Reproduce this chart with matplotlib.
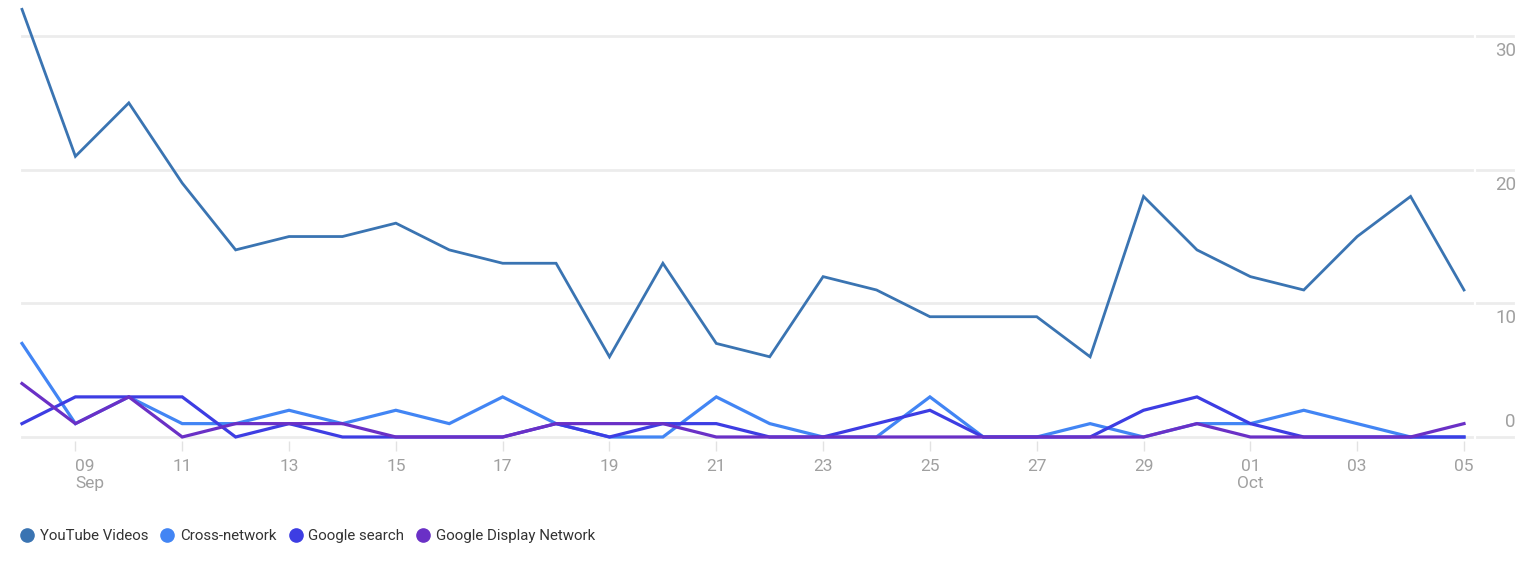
import matplotlib
matplotlib.use("Agg")
import matplotlib.pyplot as plt
import matplotlib.transforms as mtransforms
from matplotlib.lines import Line2D
import pandas as pd

dates = pd.date_range("2023-09-08", "2023-10-05", freq="D")

youtube = [32, 21, 25, 19, 14, 15, 15, 16, 14, 13, 13, 6, 13, 7, 6, 12, 11, 9, 9, 9,
           6, 18, 14, 12, 11, 15, 18, 11]
cross = [7, 1, 3, 1, 1, 2, 1, 2, 1, 3, 1, 0, 0, 3, 1, 0, 0, 3, 0, 0,
         1, 0, 1, 1, 2, 1, 0, 0]
search = [1, 3, 3, 3, 0, 1, 0, 0, 0, 0, 1, 0, 1, 1, 0, 0, 1, 2, 0, 0,
          0, 2, 3, 1, 0, 0, 0, 0]
display = [4, 1, 3, 0, 1, 1, 1, 0, 0, 0, 1, 1, 1, 0, 0, 0, 0, 0, 0, 0,
           0, 0, 1, 0, 0, 0, 0, 1]

series_names = ["YouTube Videos", "Cross-network", "Google search", "Google Display Network"]
series_values = [youtube, cross, search, display]
colors = ["#3a74b2", "#4285f4", "#3d3de3", "#6a30c6"]
widths = [2.0, 2.3, 2.3, 2.3]

yticks = [0, 10, 20, 30]
tick_dates = list(pd.date_range("2023-09-09", "2023-10-05", freq="2D"))
tick_labels = [d.strftime("%d") for d in tick_dates]
tick_labels[0] = "09\nSep"
tick_labels[tick_labels.index("01")] = "01\nOct"

FONT = ["Roboto", "DejaVu Sans"]
plt.rcParams["font.family"] = FONT

W, H = 1532, 567
fig = plt.figure(figsize=(W / 100, H / 100), dpi=100)
left_px, right_px = 22, 1464
top_px, bot_px = 4, 441
ax = fig.add_axes([left_px / W, (H - bot_px) / H, (right_px - left_px) / W, (bot_px - top_px) / H])
ax.set_xlim(dates[0], dates[-1])
ax.set_ylim(-0.3, 32.4)

for s in ax.spines.values():
    s.set_visible(False)

ext = (1513 - left_px) / (right_px - left_px)
gap0 = (1472 - left_px) / (right_px - left_px)
gap1 = (1477 - left_px) / (right_px - left_px)
for yv in yticks:
    ax.axhline(yv, xmin=0, xmax=gap0, color="#ececec", lw=2.0, clip_on=False, zorder=0)
    ax.axhline(yv, xmin=gap1, xmax=ext, color="#ececec", lw=2.0, clip_on=False, zorder=0)

for name, vals, c, lw in zip(series_names, series_values, colors, widths):
    ax.plot(dates, vals, color=c, lw=lw, clip_on=False, solid_joinstyle="miter", label=name)

ax.set_yticks([])
ax.set_xticks(tick_dates)
ax.set_xticklabels(tick_labels, fontsize=12.5, color="#a0a0a0", linespacing=1.15)
ax.tick_params(axis="x", length=7, width=1, color="#e2e2e2", pad=6)
for lab in ax.get_xticklabels():
    lab.set_verticalalignment("top")
ax.get_xticklabels()[0].set_horizontalalignment("left")

# right-side y labels
trans = mtransforms.blended_transform_factory(fig.transFigure, ax.transData)
for yv in yticks:
    off = 15 if yv == 0 else -15
    t = mtransforms.offset_copy(trans, fig=fig, y=off * 0.72, units="points")
    ax.text(1516 / W, yv, str(yv), transform=t, ha="right", va="center",
            fontsize=13.5, color="#a0a0a0")

handles = [Line2D([], [], ls="none", marker="o", markersize=9.5, color=c) for c in colors]
fig.legend(handles, series_names, loc="center left", bbox_to_anchor=(21 / W, 1 - 536 / H),
           ncol=4, frameon=False, fontsize=10.8, handletextpad=0.45, columnspacing=0.87,
           handlelength=0.8, labelcolor="#333333", borderaxespad=0, borderpad=0)

fig.savefig("out.png", dpi=100)
